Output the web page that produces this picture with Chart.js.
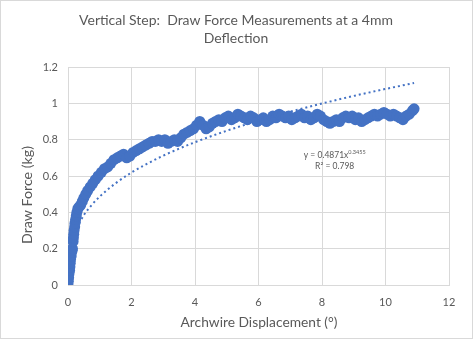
<!DOCTYPE html>
<html>
<head>
<meta charset="utf-8">
<script src="https://cdn.jsdelivr.net/npm/chart.js@4.4.1/dist/chart.umd.min.js"></script>
<style>
  html, body { margin: 0; padding: 0; background: #ffffff; }
  #wrap { width: 473px; height: 339px; }
</style>
</head>
<body>
<div id="wrap"><canvas id="c" width="473" height="339"></canvas></div>
<script>
// ---- data ----
const titleLines = ["Vertical Step:  Draw Force Measurements at a 4mm", "Deflection"];
const xAxisTitle = "Archwire Displacement (°)";
const yAxisTitle = "Draw Force (kg)";
const equationText = "y = 0.4871x";
const equationExp = "0.3455";
const r2Text = "R² = 0.798";

const displacement = [
  0.00,0.01,0.02,0.03,0.05,0.06,0.07,0.08,0.10,0.11,0.13,0.14,0.16,0.17,0.18,0.19,0.21,0.22,0.24,0.26,
  0.28,0.31,0.35,0.40,0.45,0.50,0.56,0.62,0.70,0.78,0.86,0.95,1.05,1.15,1.25,1.35,1.45,1.55,1.65,1.75,
  1.85,1.95,2.05,2.15,2.25,2.35,2.45,2.55,2.65,2.75,2.85,2.95,3.05,3.15,3.25,3.35,3.45,3.55,3.65,3.75,
  3.85,3.95,4.05,4.15,4.25,4.35,4.45,4.55,4.65,4.75,4.85,4.95,5.05,5.15,5.25,5.35,5.45,5.55,5.65,5.75,
  5.85,5.95,6.05,6.15,6.25,6.35,6.45,6.55,6.65,6.75,6.85,6.95,7.05,7.15,7.25,7.35,7.45,7.55,7.65,7.75,
  7.85,7.95,8.05,8.15,8.25,8.35,8.45,8.55,8.65,8.75,8.85,8.95,9.05,9.15,9.25,9.35,9.45,9.55,9.65,9.75,
  9.85,9.95,10.05,10.15,10.25,10.35,10.45,10.55,10.65,10.75,10.85,10.90
];
const drawForce = [
  0.00,0.02,0.04,0.06,0.08,0.10,0.12,0.14,0.16,0.18,0.19,0.20,0.24,0.26,0.28,0.30,0.32,0.34,0.36,0.38,
  0.40,0.42,0.43,0.44,0.46,0.48,0.50,0.52,0.54,0.56,0.58,0.60,0.62,0.64,0.65,0.67,0.69,0.70,0.71,0.72,
  0.70,0.71,0.73,0.74,0.75,0.76,0.77,0.78,0.79,0.79,0.80,0.79,0.80,0.78,0.79,0.80,0.79,0.81,0.83,0.84,
  0.85,0.86,0.88,0.90,0.88,0.86,0.87,0.89,0.90,0.91,0.90,0.92,0.93,0.91,0.92,0.94,0.93,0.92,0.91,0.93,
  0.92,0.90,0.91,0.92,0.90,0.91,0.93,0.92,0.94,0.93,0.92,0.93,0.91,0.92,0.93,0.94,0.92,0.93,0.91,0.92,
  0.94,0.93,0.91,0.90,0.89,0.90,0.91,0.90,0.92,0.93,0.92,0.93,0.91,0.92,0.90,0.91,0.92,0.93,0.94,0.93,
  0.94,0.95,0.94,0.93,0.94,0.93,0.92,0.91,0.93,0.94,0.96,0.97
];

// power trendline
const trendX = [0.35,0.50,0.75,1.0,1.5,2.0,2.5,3.0,4.0,5.0,6.0,7.0,8.0,9.0,10.0,10.9];
const trendY = [0.339,0.385,0.441,0.487,0.560,0.619,0.668,0.712,0.786,0.849,0.905,0.954,0.999,1.041,1.079,1.112];

const xTicks = [0,2,4,6,8,10,12];
const yTicks = [0,0.2,0.4,0.6,0.8,1,1.2];

// ---- build chart ----
const blue = "#4472C4";
const grey = "#595959";
const gridGrey = "#d9d9d9";
const fontFam = "Lato, 'Open Sans', sans-serif";

const points = displacement.map((x, i) => ({x: x, y: drawForce[i]}));
const trend = trendX.map((x, i) => ({x: x, y: trendY[i]}));

function fitFont(ctx, text, targetWidth) {
  ctx.font = "20px " + fontFam;
  const w = ctx.measureText(text).width;
  return 20 * targetWidth / w;
}

const extras = {
  id: "extras",
  beforeDraw(chart) {
    const ctx = chart.ctx;
    ctx.save();
    ctx.fillStyle = "#ffffff";
    ctx.fillRect(0, 0, chart.width, chart.height);
    ctx.restore();
  },
  afterDraw(chart) {
    const ctx = chart.ctx;
    const xs = chart.scales.x, ys = chart.scales.y;
    ctx.save();
    ctx.strokeStyle = gridGrey;
    ctx.lineWidth = 1;
    ctx.strokeRect(0.5, 0.5, chart.width - 1, chart.height - 1);

    ctx.fillStyle = grey;
    ctx.textBaseline = "middle";
    ctx.textAlign = "center";
    // chart title
    const tSize = fitFont(ctx, titleLines[0], 314);
    ctx.font = tSize + "px " + fontFam;
    ctx.fillText(titleLines[0], 236, 20);
    ctx.fillText(titleLines[1], 236, 38);
    // x axis title
    const xSize = fitFont(ctx, xAxisTitle, 157);
    ctx.font = xSize + "px " + fontFam;
    ctx.fillText(xAxisTitle, 259, 323);
    // y axis title
    const ySize = fitFont(ctx, yAxisTitle, 98);
    ctx.save();
    ctx.translate(27, 195);
    ctx.rotate(-Math.PI / 2);
    ctx.font = ySize + "px " + fontFam;
    ctx.fillText(yAxisTitle, 0, 0);
    ctx.restore();

    // trendline label
    const cx = xs.getPixelForValue(8.4);
    const y1 = ys.getPixelForValue(0.715);
    const y2 = ys.getPixelForValue(0.655);
    ctx.font = "8.5px " + fontFam;
    const w1 = ctx.measureText(equationText).width;
    ctx.font = "5.5px " + fontFam;
    const w2 = ctx.measureText(equationExp).width;
    const start = cx - (w1 + w2) / 2;
    ctx.textAlign = "left";
    ctx.font = "8.5px " + fontFam;
    ctx.fillText(equationText, start, y1);
    ctx.font = "5.5px " + fontFam;
    ctx.fillText(equationExp, start + w1, y1 - 3);
    ctx.font = "8.5px " + fontFam;
    ctx.textAlign = "center";
    ctx.fillText(r2Text, cx, y2);
    ctx.restore();
  }
};

new Chart(document.getElementById("c"), {
  type: "scatter",
  data: {
    datasets: [
      {
        label: "Draw Force",
        data: points,
        backgroundColor: blue,
        borderColor: blue,
        pointRadius: 5.5,
        pointHoverRadius: 5.5,
        borderWidth: 0,
        order: 1
      },
      {
        label: "Power trend",
        type: "line",
        data: trend,
        borderColor: blue,
        borderWidth: 2,
        borderDash: [2, 3],
        pointRadius: 0,
        fill: false,
        tension: 0.4,
        cubicInterpolationMode: "monotone",
        order: 0
      }
    ]
  },
  options: {
    responsive: false,
    animation: false,
    devicePixelRatio: 1,
    layout: { padding: { top: 67, left: 4, right: 24, bottom: 5 } },
    plugins: {
      legend: { display: false },
      tooltip: { enabled: false },
      title: { display: false }
    },
    scales: {
      x: {
        type: "linear",
        min: 0, max: 12,
        afterBuildTicks: s => { s.ticks = xTicks.map(v => ({value: v})); },
        afterFit: s => { s.height = 49; },
        grid: { color: gridGrey, drawTicks: false },
        border: { color: gridGrey },
        ticks: { color: grey, padding: 11, font: { family: fontFam, size: 11 } },
        title: { display: false }
      },
      y: {
        type: "linear",
        min: 0, max: 1.2,
        afterBuildTicks: s => { s.ticks = yTicks.map(v => ({value: v})); },
        afterFit: s => { s.width = 64; },
        grid: { color: gridGrey, drawTicks: false },
        border: { color: gridGrey },
        ticks: { color: grey, padding: 10, font: { family: fontFam, size: 11 },
                 callback: v => String(v) },
        title: { display: false }
      }
    }
  },
  plugins: [extras]
});
</script>
</body>
</html>
